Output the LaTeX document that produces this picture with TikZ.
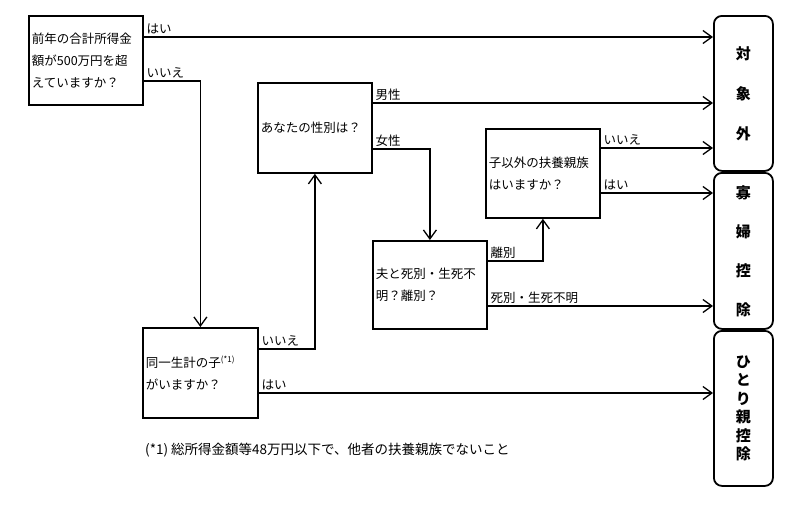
\documentclass[tikz,border=0pt]{standalone}
\usepackage{fontspec}
\setmainfont{Noto Sans CJK JP}
\usetikzlibrary{arrows.meta}
\tikzset{
  qbox/.style={draw, line width=1.8pt, rectangle, inner sep=3pt, align=left,
    font=\fontsize{12.5}{22}\selectfont, anchor=north west},
  rbox/.style={draw, line width=1.8pt, rounded corners=8pt, align=center,
    anchor=north west, inner sep=0pt},
  conn/.style={line width=1.4pt, -{Straight Barb[length=9pt,width=13pt,line width=1.3pt]}},
  lbl/.style={font=\fontsize{12.5}{14}\selectfont, inner sep=2pt, anchor=south west},
}
\begin{document}
\begin{tikzpicture}[x=1pt,y=-1pt]
\useasboundingbox (0,0) rectangle (800,504);
% question boxes
\node[qbox, minimum width=114pt, minimum height=89pt, text width=108pt] (b1) at (28,15)
  {前年の合計所得金\\額が500万円を超\\えていますか？};
\node[qbox, minimum width=114pt, minimum height=90pt, text width=108pt] (b2) at (257,82)
  {あなたの性別は？};
\node[qbox, minimum width=114pt, minimum height=88pt, text width=108pt] (b3) at (372,240)
  {夫と死別・生死不\\明？離別？};
\node[qbox, minimum width=114pt, minimum height=89pt, text width=108pt] (b5) at (485,128)
  {子以外の扶養親族\\はいますか？};
\node[qbox, minimum width=115pt, minimum height=90pt, text width=109pt] (b4) at (142,327)
  {同一生計の子\textsuperscript{\fontsize{8}{8}\selectfont(*1)}\\がいますか？};
% result boxes
\node[rbox, minimum width=59pt, minimum height=155pt,
  font=\fontsize{15}{40}\selectfont\bfseries] (r1) at (713,15) {対\\象\\外};
\node[rbox, minimum width=59pt, minimum height=156pt,
  font=\fontsize{15}{39}\selectfont\bfseries] (r2) at (713,172) {寡\\婦\\控\\除};
\node[rbox, minimum width=59pt, minimum height=155pt,
  font=\fontsize{15}{18.5}\selectfont\bfseries] (r3) at (713,330) {ひ\\と\\り\\親\\控\\除};
% connectors
\draw[conn] (b1.east |- 0,37) node[lbl]{はい} -- (r1.west |- 0,37);
\draw[conn] (b1.east |- 0,81) node[lbl]{いいえ} -| (b4.north);
\draw[conn] (b2.east |- 0,103) node[lbl]{男性} -- (r1.west |- 0,103);
\draw[conn] (b2.east |- 0,149) node[lbl]{女性} -| (b3.north);
\draw[conn] (b5.east |- 0,148) node[lbl]{いいえ} -- (r1.west |- 0,148);
\draw[conn] (b5.east |- 0,193) node[lbl]{はい} -- (r2.west |- 0,193);
\draw[conn] (b3.east |- 0,261) node[lbl]{離別} -| (b5.south);
\draw[conn] (b3.east |- 0,306) node[lbl]{死別・生死不明} -- (r2.west |- 0,306);
\draw[conn] (b4.east |- 0,349) node[lbl]{いいえ} -| (b2.south);
\draw[conn] (b4.east |- 0,393) node[lbl]{はい} -- (r3.west |- 0,393);
% footnote
\node[font=\fontsize{13.5}{15}\selectfont, anchor=west, inner sep=0pt] (fn) at (145,450)
  {(*1) 総所得金額等48万円以下で、他者の扶養親族でないこと};
\end{tikzpicture}
\end{document}
